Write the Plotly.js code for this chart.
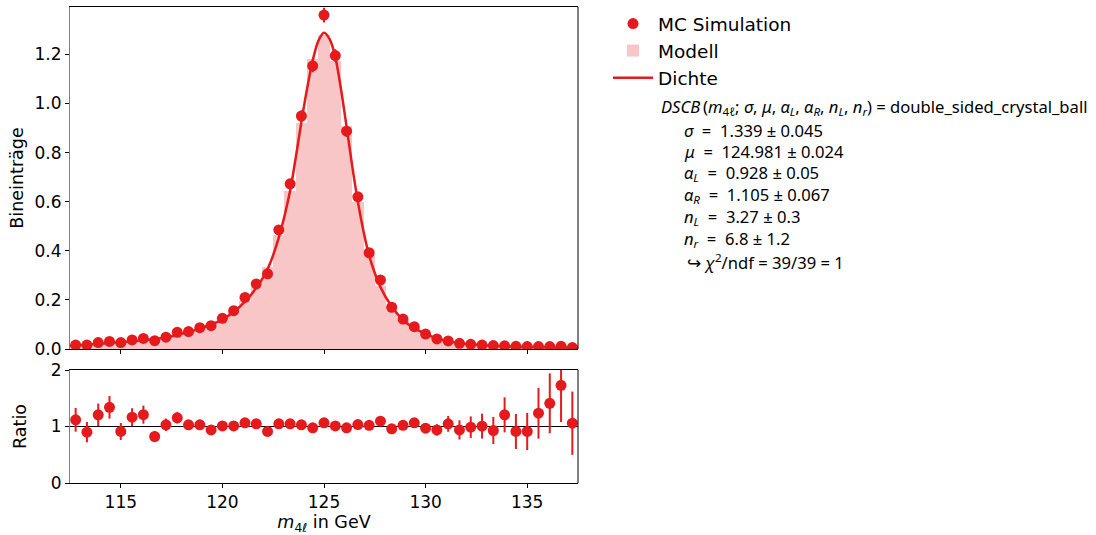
<!DOCTYPE html>
<html>
<head>
<meta charset="utf-8">
<script src="https://cdn.plot.ly/plotly-3.0.1.min.js"></script>
<style>html,body{margin:0;padding:0;background:#fff;}#chart{width:1096px;height:535px;}</style>
</head>
<body>
<div id="chart"></div>
<script>
// Bin centres (45 bins between 112.5 and 137.5 GeV)
const binCenters = [112.778,113.333,113.889,114.444,115.000,115.556,116.111,116.667,117.222,117.778,
  118.333,118.889,119.444,120.000,120.556,121.111,121.667,122.222,122.778,123.333,
  123.889,124.444,125.000,125.556,126.111,126.667,127.222,127.778,128.333,128.889,
  129.444,130.000,130.556,131.111,131.667,132.222,132.778,133.333,133.889,134.444,
  135.000,135.556,136.111,136.667,137.222];
const binWidth = 0.5556;

// MC simulation (points) and their uncertainties
const mcValues = [0.016,0.016,0.026,0.031,0.026,0.037,0.043,0.034,0.048,0.068,
  0.071,0.087,0.095,0.125,0.156,0.210,0.265,0.306,0.485,0.673,
  0.949,1.153,1.360,1.195,0.887,0.620,0.392,0.281,0.170,0.122,
  0.091,0.061,0.041,0.033,0.023,0.019,0.016,0.014,0.013,0.011,
  0.010,0.010,0.010,0.011,0.006];
const mcErrors = [0.003,0.003,0.004,0.005,0.004,0.005,0.006,0.004,0.005,0.006,
  0.005,0.006,0.006,0.007,0.008,0.010,0.011,0.012,0.016,0.019,
  0.023,0.026,0.030,0.026,0.022,0.018,0.014,0.012,0.009,0.008,
  0.006,0.005,0.004,0.004,0.004,0.004,0.004,0.003,0.004,0.003,
  0.003,0.004,0.004,0.004,0.003];

// Model (binned, filled histogram)
const modelValues = [0.0143,0.0178,0.0216,0.0240,0.0285,0.0318,0.0355,0.0413,0.0466,0.059,
  0.069,0.0845,0.101,0.124,0.154,0.197,0.253,0.336,0.463,0.643,
  0.921,1.180,1.277,1.175,0.908,0.599,0.384,0.257,0.177,0.120,
  0.0854,0.0629,0.0436,0.0315,0.0245,0.0192,0.0159,0.0135,0.0115,0.0100,
  0.0088,0.0078,0.0070,0.0062,0.0056];

// Density curve
const curveX = [112.5,112.778,113.333,113.889,114.444,115.0,115.556,116.111,116.667,117.222,117.778,
  118.333,118.889,119.444,120.0,120.556,121.111,121.667,122.222,122.778,123.333,123.611,123.889,
  124.167,124.444,124.722,125.0,125.278,125.556,125.833,126.111,126.389,126.667,126.944,127.222,
  127.778,128.333,128.889,129.444,130.0,130.556,131.111,131.667,132.222,132.778,133.333,133.889,
  134.444,135.0,135.556,136.111,136.667,137.222,137.5];
const curveY = [0.013,0.0142,0.0175,0.0212,0.0240,0.0282,0.0315,0.0352,0.041,0.046,0.058,
  0.068,0.083,0.099,0.121,0.151,0.193,0.249,0.325,0.455,0.645,0.78,0.925,
  1.06,1.175,1.255,1.288,1.262,1.19,1.06,0.905,0.745,0.600,0.48,0.38,
  0.252,0.173,0.118,0.084,0.062,0.043,0.031,0.024,0.019,0.0157,0.0133,0.0113,
  0.0099,0.0087,0.0077,0.0069,0.0061,0.0055,0.0053];

// Ratio panel
const ratioValues = [1.118,0.90,1.206,1.34,0.912,1.164,1.21,0.823,1.03,1.153,
  1.03,1.03,0.94,1.01,1.01,1.065,1.047,0.912,1.047,1.047,
  1.03,0.977,1.065,1.01,0.977,1.035,1.02,1.094,0.959,1.02,
  1.065,0.97,0.94,1.047,0.94,0.988,1.006,0.929,1.206,0.912,
  0.912,1.235,1.41,1.728,1.058];
const ratioErrors = [0.21,0.18,0.20,0.20,0.15,0.16,0.16,0.10,0.11,0.10,
  0.07,0.06,0.05,0.05,0.04,0.04,0.035,0.03,0.03,0.025,
  0.025,0.022,0.022,0.022,0.025,0.03,0.035,0.04,0.045,0.05,
  0.055,0.06,0.10,0.14,0.17,0.19,0.22,0.24,0.31,0.31,
  0.33,0.45,0.53,0.65,0.56];

const xTicks = [115,120,125,130,135];
const yTicksMain = [0,0.2,0.4,0.6,0.8,1.0,1.2];
const yTicksRatio = [0,1,2];

const legendNames = ['MC Simulation','Modell','Dichte'];
const fitLines = [
  '<i>DSCB</i>\u2009(<i>m</i><sub>4ℓ</sub>; <i>σ</i>, <i>μ</i>, <i>α</i><sub><i>L</i></sub>, <i>α</i><sub><i>R</i></sub>, <i>n</i><sub><i>L</i></sub>, <i>n</i><sub><i>r</i></sub>) = double_sided_crystal_ball',
  '<i>σ</i>  =  1.339 ± 0.045',
  '<i>μ</i>  =  124.981 ± 0.024',
  '<i>α</i><sub><i>L</i></sub>  =  0.928 ± 0.05',
  '<i>α</i><sub><i>R</i></sub>  =  1.105 ± 0.067',
  '<i>n</i><sub><i>L</i></sub>  =  3.27 ± 0.3',
  '<i>n</i><sub><i>r</i></sub>  =  6.8 ± 1.2',
  '↪ <i>χ</i><sup>2</sup>/ndf = 39/39 = 1'
];

const RED = '#e41a1c';
const PINK = 'rgba(228,26,28,0.25)';
const FONT = 'DejaVu Sans, sans-serif';

const traces = [
  {type:'bar', x:binCenters, y:modelValues, width:binWidth, name:legendNames[1], legendrank:2,
   marker:{color:PINK, line:{width:0}}, xaxis:'x', yaxis:'y', hoverinfo:'skip'},
  {type:'scatter', mode:'lines', x:curveX, y:curveY, name:legendNames[2], legendrank:3,
   line:{color:RED, width:2.5, shape:'spline', smoothing:0.8}, xaxis:'x', yaxis:'y'},
  {type:'scatter', mode:'markers', x:binCenters, y:mcValues, name:legendNames[0], legendrank:1,
   marker:{color:RED, size:11},
   error_y:{type:'data', array:mcErrors, visible:true, color:RED, thickness:2, width:0},
   xaxis:'x', yaxis:'y'},
  {type:'scatter', mode:'markers', x:binCenters, y:ratioValues, showlegend:false,
   marker:{color:RED, size:11},
   error_y:{type:'data', array:ratioErrors, visible:true, color:RED, thickness:2, width:0},
   xaxis:'x2', yaxis:'y2', cliponaxis:true}
];

const L = 70, R = 518, T = 7, B = 52, H = 535;
const plotH = H - T - B;
const plotW = 1096 - L - R;
const px2x = px => (px - L) / plotW;
const px2y = py => (H - B - py) / plotH;

const axisCommon = {
  showgrid:false, zeroline:false, ticks:'outside', ticklen:4, tickwidth:1, tickcolor:'#000',
  showline:true, linewidth:1, tickfont:{family:FONT, size:17, color:'#000'}
};
const titleFont = {family:FONT, size:17.5, color:'#000'};

const annY = [107,130,151,173,195,217,239,262];
const annX = [659,682,682,682,682,682,682,685];
const annotations = fitLines.map((t,i) => ({
  text:t, xref:'paper', yref:'paper', x:px2x(annX[i]), y:px2y(annY[i]),
  xanchor:'left', yanchor:'middle', showarrow:false, align:'left',
  font:{family:'Noto Sans, sans-serif', size:16.6, color:'#000'}
}));

const layout = {
  width:1096, height:535,
  margin:{l:L, r:R, t:T, b:B, pad:0, autoexpand:false},
  paper_bgcolor:'#fff', plot_bgcolor:'#fff',
  font:{family:FONT, size:17, color:'#000'},
  bargap:0,
  showlegend:true,
  legend:{x:px2x(608), y:px2y(5), xanchor:'left', yanchor:'top', bgcolor:'rgba(0,0,0,0)',
          itemwidth:40,
          font:{family:FONT, size:18.5, color:'#000'}, tracegroupgap:0, traceorder:'normal'},
  xaxis:Object.assign({}, axisCommon, {domain:[0,1], range:[112.5,137.5], anchor:'y',
          tickvals:xTicks, showticklabels:false, linecolor:'#000', mirror:true}),
  yaxis:Object.assign({}, axisCommon, {domain:[(H-B-349)/plotH,1], range:[0,1.393], anchor:'x',
          tickvals:yTicksMain, tickformat:'.1f', linecolor:'#808080',
          title:{text:'Bineinträge', font:titleFont, standoff:6}}),
  xaxis2:Object.assign({}, axisCommon, {domain:[0,1], range:[112.5,137.5], anchor:'y2',
          tickvals:xTicks, linecolor:'#000', mirror:true,
          title:{text:'<i>m</i><sub>4ℓ</sub> in GeV', font:titleFont, standoff:4}}),
  yaxis2:Object.assign({}, axisCommon, {domain:[0,(H-B-370)/plotH], range:[0,2], anchor:'x2',
          tickvals:yTicksRatio, linecolor:'#808080',
          title:{text:'Ratio', font:titleFont, standoff:19}}),
  shapes:[
    {type:'line', xref:'x domain', yref:'y domain', x0:1, x1:1, y0:0, y1:1, line:{color:'#000', width:1}},
    {type:'line', xref:'x2 domain', yref:'y2 domain', x0:1, x1:1, y0:0, y1:1, line:{color:'#000', width:1}},
    {type:'line', xref:'x2 domain', yref:'y2', x0:0, x1:1, y0:1, y1:1, line:{color:'#000', width:1.2}, layer:'below'}
  ],
  annotations:annotations
};

Plotly.newPlot('chart', traces, layout, {displayModeBar:false, staticPlot:true});
</script>
</body>
</html>
